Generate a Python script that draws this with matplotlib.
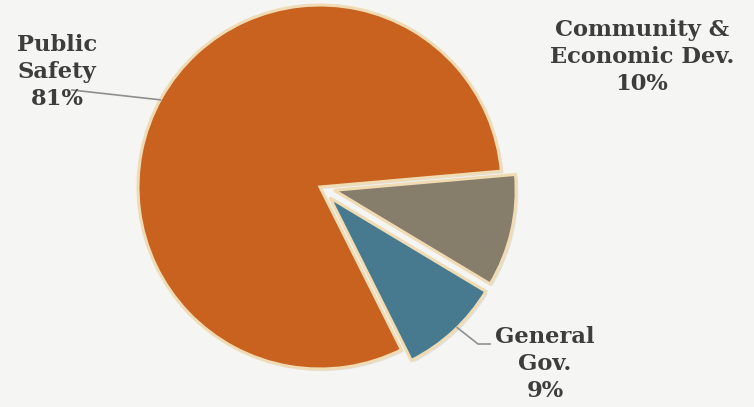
import numpy as np
import matplotlib.pyplot as plt
import matplotlib.patheffects as pe

# data
categories = ['Public\nSafety', 'General\nGov.', 'Community &\nEconomic Dev.']
shares = [81, 9, 10]
colors = ['#c9611f', '#477a8f', '#877d6b']
explode = [0.0, 0.08, 0.08]

BG = '#f5f5f3'
TXT = '#3d3d3d'

# pixel geometry of the pie in the 754x407 canvas
W, H = 754, 407
CX, CY, R = 320, 187, 182

fig = plt.figure(figsize=(W / 100, H / 100), dpi=100, facecolor=BG)
ax = fig.add_axes([0, 0, 1, 1])
ax.set_facecolor(BG)

wedges, _ = ax.pie(shares, colors=colors, explode=explode, startangle=5,
                   counterclock=True,
                   wedgeprops=dict(edgecolor='#efdcb4', linewidth=2.2))
for w in wedges:
    w.set_path_effects([pe.SimplePatchShadow(offset=(1.5, -1.5), shadow_rgbFace='#c4c4c4', alpha=0.4),
                        pe.Normal()])

ax.set_xlim(-CX / R, (W - CX) / R)
ax.set_ylim(-(H - CY) / R, CY / R)
ax.set_aspect('auto')
ax.axis('off')


def px(x, y):
    # canvas pixel (from top-left) -> data coords
    return (x - CX) / R, (CY - y) / R


font = dict(family='DejaVu Serif', fontweight='bold', color=TXT, fontsize=16.3,
            ha='center', va='center', linespacing=1.3)

# label texts with percentages
ax.text(*px(57, 72), f'{categories[0]}\n{shares[0]}%', **font)
ax.text(*px(642, 57), f'{categories[2]}\n{shares[2]}%', **font)
ax.text(*px(545, 364), f'{categories[1]}\n{shares[1]}%', **font)


# leader lines from wedge edges
def edge_point(w, frac, rr=1.0):
    ang = np.deg2rad(w.theta1 + frac * (w.theta2 - w.theta1))
    cx, cy = w.center
    return cx + rr * w.r * np.cos(ang), cy + rr * w.r * np.sin(ang)


x0, y0 = edge_point(wedges[0], 0.502)
s0 = px(72, 90)
ax.plot([s0[0], x0], [s0[1], y0], color='#8f8f8f', lw=1.2)

x1, y1 = edge_point(wedges[1], 0.55)
p1 = px(478, 344)
p2 = px(490, 344)
ax.plot([x1, p1[0], p2[0]], [y1, p1[1], p2[1]], color='#8f8f8f', lw=1.2)

fig.savefig('out.png', dpi=100, facecolor=BG)
